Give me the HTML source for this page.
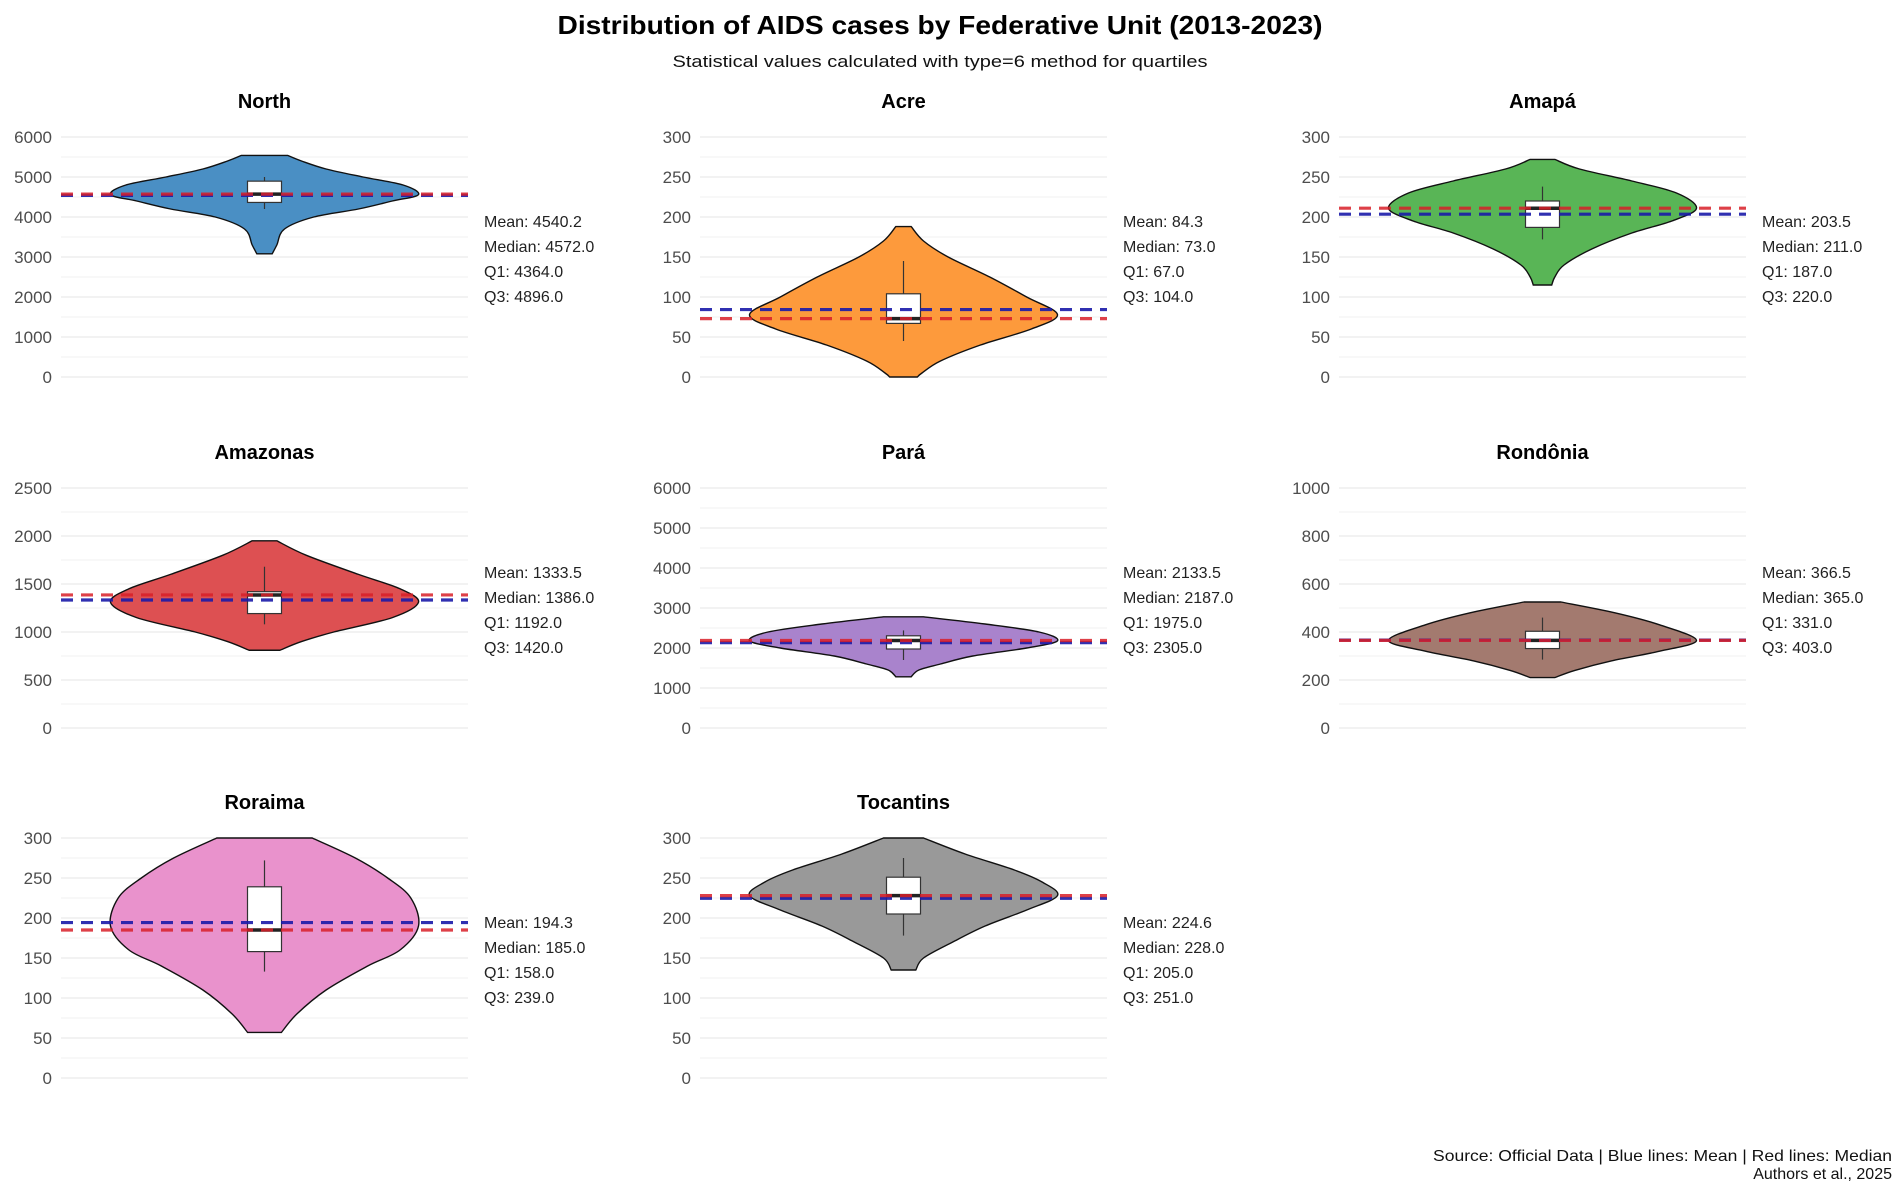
<!DOCTYPE html>
<html><head><meta charset="utf-8"><style>
html,body{margin:0;padding:0;background:#fff;}
svg{display:block;font-family:"Liberation Sans",Arial,sans-serif;}
</style></head><body>
<svg id="chart" width="1902" height="1192" viewBox="0 0 1902 1192" xmlns="http://www.w3.org/2000/svg">
<text x="940" y="34" text-anchor="middle" font-size="26" font-weight="bold" fill="#000" textLength="765" lengthAdjust="spacingAndGlyphs">Distribution of AIDS cases by Federative Unit (2013-2023)</text>
<text x="940" y="67" text-anchor="middle" font-size="17" fill="#111" textLength="535" lengthAdjust="spacingAndGlyphs">Statistical values calculated with type=6 method for quartiles</text>
<text x="1892" y="1161" text-anchor="end" font-size="16" fill="#111" textLength="459" lengthAdjust="spacingAndGlyphs">Source: Official Data | Blue lines: Mean | Red lines: Median</text>
<text x="1892" y="1179" text-anchor="end" font-size="16" fill="#111">Authors et al., 2025</text>
<g id="panels"></g>
</svg>
<script>
// ---- data ----
const units = ["North","Acre","Amapá","Amazonas","Pará","Rondônia","Roraima","Tocantins"];
const fills = ["#4a8fc4","#fd9a3c","#59b556","#dd5052","#a983cc","#a37a6f","#e992cc","#999999"];
const axisMax = [6000,300,300,2500,6000,1000,300,300];
const axisStep = [1000,50,50,500,1000,200,50,50];
const means = [4540.2,84.3,203.5,1333.5,2133.5,366.5,194.3,224.6];
const medians = [4572.0,73.0,211.0,1386.0,2187.0,365.0,185.0,228.0];
const q1s = [4364.0,67.0,187.0,1192.0,1975.0,331.0,158.0,205.0];
const q3s = [4896.0,104.0,220.0,1420.0,2305.0,403.0,239.0,251.0];
const whiskerLow = [4200,45,172,1080,1700,285,133,178];
const whiskerHigh = [5000,145,238,1680,2440,460,272,275];
// violin profiles: values (low -> high) and relative half widths
const violinValues = [
  [3080,3300,3700,4000,4200,4400,4560,4800,5000,5200,5400,5540],
  [0,5,20,40,60,78,100,125,150,170,188],
  [115,125,140,160,180,195,211,230,245,260,272],
  [810,900,1000,1150,1310,1450,1600,1800,1950],
  [1280,1450,1600,1800,2000,2180,2400,2600,2780],
  [210,240,280,320,365,430,480,525],
  [57,80,110,140,160,190,225,250,275,300],
  [135,150,170,190,210,228,245,260,280,300]
];
const violinWidths = [
  [0.05,0.08,0.13,0.32,0.61,0.83,1.0,0.9,0.64,0.40,0.24,0.15],
  [0.09,0.12,0.24,0.5,0.83,1.0,0.8,0.56,0.29,0.13,0.05],
  [0.06,0.08,0.14,0.32,0.58,0.84,1.0,0.87,0.58,0.24,0.08],
  [0.1,0.24,0.45,0.83,1.0,0.88,0.61,0.27,0.08],
  [0.05,0.1,0.24,0.45,0.8,1.0,0.88,0.53,0.13],
  [0.08,0.21,0.45,0.76,1.0,0.76,0.47,0.12],
  [0.11,0.21,0.4,0.67,0.88,1.0,0.95,0.8,0.59,0.31],
  [0.08,0.13,0.32,0.53,0.8,1.0,0.9,0.72,0.4,0.13]
];
// ---- layout ----
const NS="http://www.w3.org/2000/svg";
const colX=[61,700,1339], colW=407;
const rowTop=[137,488,838], rowH=240;
const maxHalf=154, boxHalf=17;
const root=document.getElementById('panels');
function mk(tag,attrs,parent){const e=document.createElementNS(NS,tag);for(const k in attrs)e.setAttribute(k,attrs[k]);(parent||root).appendChild(e);return e;}
function fmt(v){return v.toFixed(1);}
units.forEach((u,i)=>{
  const c=i%3, r=Math.floor(i/3);
  const x0=colX[c], y0=rowTop[r], cx=x0+colW/2;
  const yS=v=>y0+rowH*(1-v/axisMax[i]);
  const g=mk('g',{});
  
  
  const t=mk('text',{x:cx,y:y0-29,'text-anchor':'middle','font-size':20,'font-weight':'bold',fill:'#000'},g);
  t.textContent=u;
  
  
  const half=axisStep[i]/2;
  for(let v=0;v<=axisMax[i]+1e-9;v+=half){
    const major=Math.abs(v/axisStep[i]-Math.round(v/axisStep[i]))<1e-6;
    const ln=mk('line',{x1:x0,x2:x0+colW,y1:yS(v),y2:yS(v),stroke:major?'#e6e6e6':'#f0f0f0','stroke-width':1},g);
    
    
    if(major){
      const tl=mk('text',{x:x0-9,y:yS(v)+6,'text-anchor':'end','font-size':17,fill:'#4d4d4d'},g);
      tl.textContent=String(Math.round(v));
      
      
    }
  }
  const vals=violinValues[i], ws=violinWidths[i];
  const pts=[];
  for(let k=0;k<vals.length;k++)pts.push([cx+ws[k]*maxHalf,yS(vals[k])]);
  for(let k=vals.length-1;k>=0;k--)pts.push([cx-ws[k]*maxHalf,yS(vals[k])]);
  function side(arr){let d='';for(let k=0;k<arr.length-1;k++){const p0=arr[Math.max(k-1,0)],p1=arr[k],p2=arr[k+1],p3=arr[Math.min(k+2,arr.length-1)];
    const c1=[p1[0]+(p2[0]-p0[0])/6,p1[1]+(p2[1]-p0[1])/6],c2=[p2[0]-(p3[0]-p1[0])/6,p2[1]-(p3[1]-p1[1])/6];
    d+=` C${c1[0]},${c1[1]} ${c2[0]},${c2[1]} ${p2[0]},${p2[1]}`;}return d;}
  const right=pts.slice(0,vals.length), left=pts.slice(vals.length);
  const d=`M${right[0][0]},${right[0][1]}`+side(right)+` L${left[0][0]},${left[0][1]}`+side(left)+' Z';
  const vp=mk('path',{d:d,fill:fills[i],stroke:'#111','stroke-width':1.4},g);
  
  
  const wl=mk('line',{x1:cx,x2:cx,y1:yS(whiskerLow[i]),y2:yS(whiskerHigh[i]),stroke:'#333','stroke-width':1.2},g);
  
  
  const bx=mk('rect',{x:cx-boxHalf,y:yS(q3s[i]),width:boxHalf*2,height:yS(q1s[i])-yS(q3s[i]),fill:'#fff',stroke:'#333','stroke-width':1.2},g);
  
  
  const bm=mk('line',{x1:cx-boxHalf,x2:cx+boxHalf,y1:yS(medians[i]),y2:yS(medians[i]),stroke:'#222','stroke-width':3.5},g);
  
  
  const ml=mk('line',{x1:x0,x2:x0+colW,y1:yS(means[i]),y2:yS(means[i]),stroke:'#1a1aa8','stroke-width':3.2,'stroke-dasharray':'12 8','stroke-opacity':0.9},g);
  
  
  const dl=mk('line',{x1:x0,x2:x0+colW,y1:yS(medians[i]),y2:yS(medians[i]),stroke:'#d81e28','stroke-width':3.2,'stroke-dasharray':'12 8','stroke-opacity':0.85},g);
  
  
  const lines=['Mean: '+fmt(means[i]),'Median: '+fmt(medians[i]),'Q1: '+fmt(q1s[i]),'Q3: '+fmt(q3s[i])];
  const names=['stat-mean','stat-median','stat-q1','stat-q3'];
  lines.forEach((s,k)=>{
    const st=mk('text',{x:x0+colW+16,y:y0+90+k*25,'font-size':16,fill:'#222'},g);
    st.textContent=s;
    
    
  });
});
</script>
</body></html>
